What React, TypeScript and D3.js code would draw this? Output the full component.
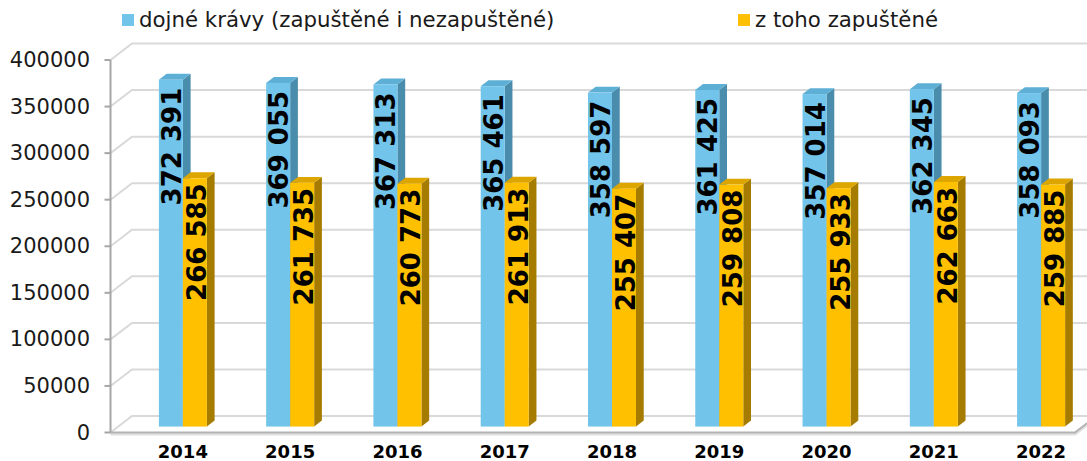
import React from 'react';
import * as d3 from 'd3';

const years = ['2014', '2015', '2016', '2017', '2018', '2019', '2020', '2021', '2022'];
const dojneKravy = [372391, 369055, 367313, 365461, 358597, 361425, 357014, 362345, 358093];
const zapustene = [266585, 261735, 260773, 261913, 255407, 259808, 255933, 262663, 259885];
const yTicks = [0, 50000, 100000, 150000, 200000, 250000, 300000, 350000, 400000];
const seriesNames = ['dojné krávy (zapuštěné i nezapuštěné)', 'z toho zapuštěné'];

const W = 1087;
const H = 461;
const AX = 110.5;
const DX = 21.5;
const DY = -16.5;
const Z_FRONT = 0.36;
const Z_DEPTH = 0.36;
const FLOOR_RIGHT = 1075;
const BAR_W = 24;

const COLORS = {
  blue: { front: '#72c4ea', side: '#4a8cab', top: '#5eafd5' },
  gold: { front: '#ffc000', side: '#a67c00', top: '#dca500' },
};

const fmt = d3.formatLocale({ decimal: ',', thousands: ' ', grouping: [3], currency: ['', ''] }).format(',d');

export default function App() {
  const y = d3.scaleLinear().domain([0, 400000]).range([432.5, 60]);
  const x = d3.scaleBand<string>().domain(years).range([121.5, 1087]).paddingInner(0).paddingOuter(0);

  const fdx = Z_FRONT * DX;
  const fdy = Z_FRONT * DY;
  const ddx = Z_DEPTH * DX;
  const ddy = Z_DEPTH * DY;

  const bar = (key: string, x0: number, v: number, c: { front: string; side: string; top: string }) => {
    const xl = x0;
    const xr = x0 + BAR_W;
    const yt = y(v) + fdy;
    const yb = y(0) + fdy;
    const side = `M${xr},${yt} L${xr + ddx},${yt + ddy} L${xr + ddx},${yb + ddy} L${xr},${yb} Z`;
    const top = `M${xl},${yt} L${xr},${yt} L${xr + ddx},${yt + ddy} L${xl + ddx},${yt + ddy} Z`;
    return (
      <g key={key}>
        <path d={side} fill={c.side} />
        <path d={top} fill={c.top} />
        <rect x={xl} y={yt} width={BAR_W} height={yb - yt} fill={c.front} />
      </g>
    );
  };

  const gridColor = '#d9d9d9';

  return (
    <svg width={W} height={H} style={{ position: 'absolute', left: 0, top: 0, background: '#fff' }}
      fontFamily="'DejaVu Sans', Verdana, sans-serif">
      <defs>
        <filter id="soft" x="-5%" y="-50%" width="110%" height="200%">
          <feGaussianBlur stdDeviation="0.6" />
        </filter>
      </defs>
      {/* legend */}
      <rect x={122} y={14} width={12} height={12} fill={COLORS.blue.front} />
      <text x={139} y={27} fontSize={21.3} fill="#1a1a1a">{seriesNames[0]}</text>
      <rect x={738} y={14} width={12} height={12} fill={COLORS.gold.front} />
      <text x={755} y={27} fontSize={21.3} fill="#1a1a1a">{seriesNames[1]}</text>

      {/* side wall + back wall gridlines */}
      {yTicks.map((t) => (
        <g key={'g' + t}>
          <path d={`M${AX},${y(t)} L${AX + DX},${y(t) + DY} L${W + 20},${y(t) + DY}`}
            fill="none" stroke={gridColor} strokeWidth={2} />
        </g>
      ))}

      {/* floor */}
      <path d={`M${AX},${y(0) + 1.5} L${FLOOR_RIGHT},${y(0) + 1.5} L${FLOOR_RIGHT + DX},${y(0) + 1.5 + DY}`}
        fill="none" stroke="#e0e0e0" strokeWidth={3} filter="url(#soft)" />
      <path d={`M${AX},${y(0)} L${FLOOR_RIGHT},${y(0)} L${FLOOR_RIGHT + DX},${y(0) + DY}`}
        fill="none" stroke="#b3b3b3" strokeWidth={2} />

      {/* value axis */}
      <line x1={AX} x2={AX} y1={y(400000)} y2={y(0)} stroke="#a6a6a6" strokeWidth={2} />
      {yTicks.map((t) => (
        <g key={'t' + t}>
          <line x1={AX - 6} x2={AX} y1={y(t)} y2={y(t)} stroke="#a6a6a6" strokeWidth={2} />
          <text x={90} y={y(t)} textAnchor="end" dominantBaseline="central" fontSize={21} fill="#1a1a1a">
            {String(t)}
          </text>
        </g>
      ))}

      {/* bars */}
      {years.map((yr, i) => {
        const c = (x(yr) as number) + x.bandwidth() / 2 + fdx;
        return (
          <g key={'b' + yr}>
            {bar('a' + yr, c - BAR_W, dojneKravy[i], COLORS.blue)}
            {bar('z' + yr, c, zapustene[i], COLORS.gold)}
          </g>
        );
      })}

      {/* value labels */}
      {years.map((yr, i) => {
        const c = (x(yr) as number) + x.bandwidth() / 2 + fdx;
        const yb = y(dojneKravy[i]) + fdy + 8;
        const yz = y(zapustene[i]) + fdy + 5;
        return (
          <g key={'l' + yr} fontWeight="bold" fontSize={26} fill="#000">
            <text transform={`translate(${c - BAR_W / 2 + 1},${yb}) rotate(-90)`} textAnchor="end" dominantBaseline="central">
              {fmt(dojneKravy[i])}
            </text>
            <text transform={`translate(${c + BAR_W / 2 + 2},${yz}) rotate(-90)`} textAnchor="end" dominantBaseline="central">
              {fmt(zapustene[i])}
            </text>
          </g>
        );
      })}

      {/* category labels */}
      {years.map((yr) => {
        const c = (x(yr) as number) + x.bandwidth() / 2 + fdx;
        return (
          <text key={'c' + yr} x={c} y={458} textAnchor="middle" fontWeight="bold" fontSize={18} fill="#000">
            {yr}
          </text>
        );
      })}
    </svg>
  );
}
